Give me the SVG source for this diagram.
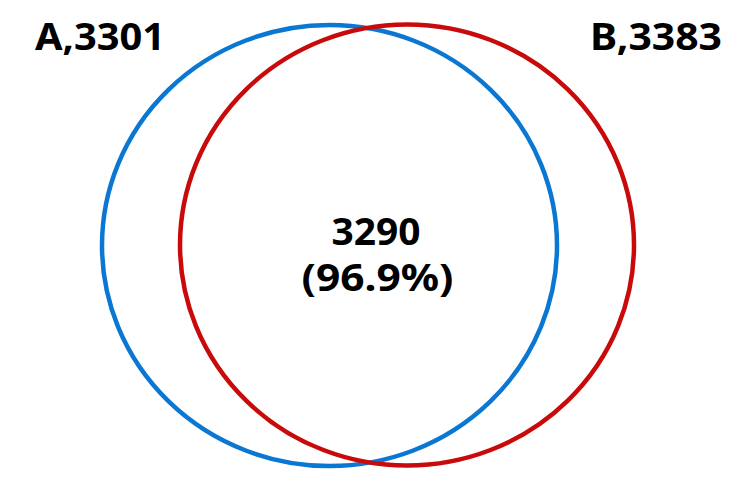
<svg xmlns="http://www.w3.org/2000/svg" width="750" height="493" viewBox="0 0 750 493">
<style>
.lbl{font-family:"Noto Sans","Liberation Sans",sans-serif;font-weight:bold;font-size:38px;fill:#000}
.c{fill:none;stroke-width:4.5}
</style>
<rect width="750" height="493" fill="#fff"/>
<g id="setA">
<ellipse class="c" cx="329.5" cy="245.5" rx="227.5" ry="220.5" stroke="#0a78d2"/>
<text class="lbl" x="35" y="50" textLength="130" lengthAdjust="spacingAndGlyphs">A,3301</text>
</g>
<g id="setB">
<ellipse class="c" cx="407" cy="245" rx="227" ry="220.5" stroke="#c80a0a"/>
<text class="lbl" x="590" y="50" textLength="132" lengthAdjust="spacingAndGlyphs">B,3383</text>
</g>
<g id="overlap">
<text class="lbl" x="331.5" y="245" textLength="89" lengthAdjust="spacingAndGlyphs">3290</text>
<text class="lbl" x="301.5" y="291" textLength="152" lengthAdjust="spacingAndGlyphs">(96.9%)</text>
</g>
<g id="connectors"></g>
</svg>
